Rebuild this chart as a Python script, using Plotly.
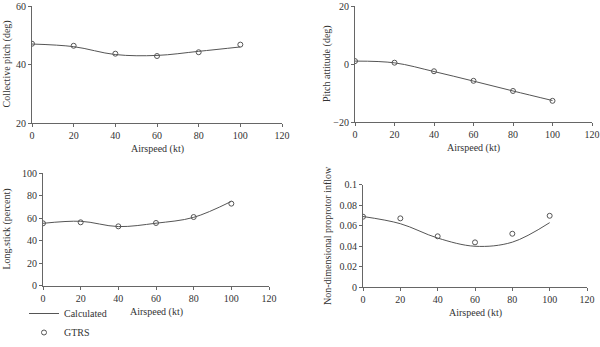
import plotly.graph_objects as go

airspeed = [0, 20, 40, 60, 80, 100]

collective_calc = [47.0, 46.1, 43.4, 43.1, 44.5, 46.0]
collective_gtrs = [47.1, 46.4, 43.7, 42.9, 44.2, 46.8]

pitch_calc = [1.0, 0.4, -2.6, -5.9, -9.3, -12.6]
pitch_gtrs = [1.0, 0.45, -2.5, -5.8, -9.3, -12.7]

stick_calc = [55.5, 57.3, 52.6, 55.6, 60.8, 75.0]
stick_gtrs = [55.5, 56.4, 52.8, 55.8, 61.1, 73.0]

inflow_calc = [0.069, 0.062, 0.048, 0.040, 0.044, 0.063]
inflow_gtrs = [0.0688, 0.0672, 0.0497, 0.0438, 0.0522, 0.0697]

x_ticks = [0, 20, 40, 60, 80, 100, 120]

W, H = 600, 347
FONT = "Liberation Serif"
TXT = "#333333"
LINE = "#555555"

panels = [
    dict(calc=collective_calc, gtrs=collective_gtrs, yr=[20, 60], dt=20,
         ytitle="Collective pitch (deg)", px=(32, 282), py=(6, 123), ytx=6),
    dict(calc=pitch_calc, gtrs=pitch_gtrs, yr=[-20, 20], dt=20,
         ytitle="Pitch attitude (deg)", px=(355, 592), py=(6, 122), ytx=327),
    dict(calc=stick_calc, gtrs=stick_gtrs, yr=[0, 100], dt=20,
         ytitle="Long.stick (percent)", px=(43, 269), py=(173.3, 285.7), ytx=6),
    dict(calc=inflow_calc, gtrs=inflow_gtrs, yr=[0, 0.1], dt=0.02,
         ytitle="Non-dimensional proprotor inflow", px=(363, 587), py=(184.7, 287.3), ytx=327),
]

fig = go.Figure()
annotations = []
for i, p in enumerate(panels):
    n = "" if i == 0 else str(i + 1)
    fig.add_trace(go.Scatter(
        x=airspeed, y=p["calc"], mode="lines", line=dict(shape="spline", color=LINE, width=1),
        name="Calculated", showlegend=(i == 0), xaxis="x" + n, yaxis="y" + n))
    fig.add_trace(go.Scatter(
        x=airspeed, y=p["gtrs"], mode="markers",
        marker=dict(symbol="circle-open", size=5, color=LINE, line=dict(width=1, color=LINE)),
        name="GTRS", showlegend=(i == 0), xaxis="x" + n, yaxis="y" + n))
    ax = dict(domain=[p["px"][0] / W, p["px"][1] / W], range=[0, 120], tickvals=x_ticks,
              showgrid=False, zeroline=False, showline=True, linecolor="#666666", linewidth=1,
              ticks="outside", ticklen=3, tickcolor="#666666",
              tickfont=dict(family=FONT, size=10, color=TXT),
              anchor="y" + n, automargin=False)
    ay = dict(domain=[1 - p["py"][1] / H, 1 - p["py"][0] / H], range=p["yr"], dtick=p["dt"],
              tick0=0, showgrid=False, zeroline=False, showline=True, linecolor="#666666", linewidth=1,
              ticks="outside", ticklen=3, tickcolor="#666666",
              tickfont=dict(family=FONT, size=10, color=TXT),
              anchor="x" + n, automargin=False)
    fig.update_layout(**{"xaxis" + n: ax, "yaxis" + n: ay})
    xc = (p["px"][0] + p["px"][1]) / 2 / W
    annotations.append(dict(text="Airspeed (kt)", x=xc, xref="paper",
                            y=1 - (p["py"][1] + 26) / H, yref="paper",
                            xanchor="center", yanchor="middle",
                            showarrow=False, font=dict(family=FONT, size=10, color=TXT)))
    yc = 1 - (p["py"][0] + p["py"][1]) / 2 / H
    annotations.append(dict(text=p["ytitle"], x=p["ytx"] / W, xref="paper", y=yc, yref="paper",
                            xanchor="center", yanchor="middle",
                            textangle=-90, showarrow=False,
                            font=dict(family=FONT, size=10, color=TXT)))

fig.update_layout(
    width=W, height=H, margin=dict(l=0, r=0, t=0, b=0),
    paper_bgcolor="white", plot_bgcolor="white",
    annotations=annotations,
    showlegend=True,
    legend=dict(x=24 / W, y=0, xanchor="left", yanchor="bottom", itemwidth=30,
                font=dict(family=FONT, size=10, color=TXT), bgcolor="rgba(0,0,0,0)",
                tracegroupgap=0),
)

fig.write_html("out.html")
